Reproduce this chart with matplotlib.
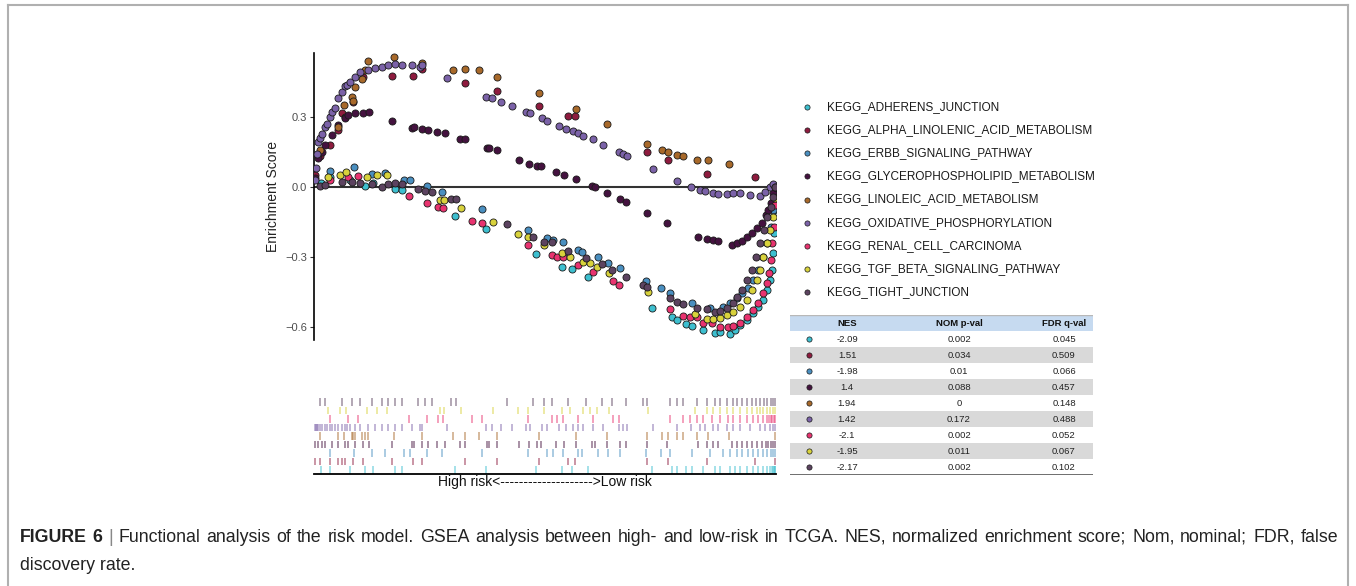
import matplotlib
matplotlib.use("Agg")
import matplotlib.pyplot as plt
from matplotlib.lines import Line2D
from matplotlib.patches import Rectangle
from matplotlib.ticker import FuncFormatter

plt.rcParams["font.family"] = ["Liberation Sans", "DejaVu Sans"]
CAPTION_FONT = ["Liberation Sans", "DejaVu Sans"]

W, H = 1356, 586

# running enrichment score at the hits: rank in the ranked gene list, ES
adherens_rank = [280, 640, 1440, 2040, 2360, 3240, 3520, 5640, 6880, 8880, 9920, 10320, 10960, 13520, 14320,
                 14520, 14880, 15120, 15560, 16040, 16240, 16640, 16840, 17040, 17320, 17560, 17760, 17960,
                 18120, 18240, 18320, 18360, 18400, 18420, 18440]
adherens_es = [0.016, 0.04, 0.03, 0.003, 0.016, -0.010, -0.014, -0.126, -0.181, -0.288, -0.344, -0.353, -0.387,
               -0.520, -0.559, -0.571, -0.589, -0.597, -0.614, -0.627, -0.623, -0.632, -0.614, -0.593, -0.571,
               -0.541, -0.516, -0.486, -0.443, -0.400, -0.357, -0.284, -0.199, -0.10, -0.03]

alpha_rank = [40, 240, 640, 960, 1120, 1240, 1560, 1960, 3120, 3960, 4320, 6040, 7320, 9000, 10160, 10440,
              13320, 14160, 15720, 17640, 18440]
alpha_es = [0.05, 0.13, 0.179, 0.243, 0.316, 0.299, 0.363, 0.470, 0.475, 0.475, 0.505, 0.444, 0.410, 0.346,
            0.303, 0.303, 0.149, 0.114, 0.054, 0.042, 0.0]

erbb_rank = [640, 1600, 2320, 2840, 3600, 3840, 4520, 5120, 6720, 8560, 9320, 9560, 9960, 10560, 10720, 11360,
             11760, 12240, 13280, 13880, 14240, 15120, 15840, 16360, 16640, 16920, 17120, 17360, 17560, 17760,
             17960, 18120, 18280, 18360, 18440]
erbb_es = [0.067, 0.084, 0.054, 0.059, 0.029, 0.029, 0.003, -0.023, -0.096, -0.186, -0.220, -0.228, -0.237,
           -0.271, -0.280, -0.301, -0.327, -0.348, -0.404, -0.434, -0.456, -0.499, -0.520, -0.516, -0.499,
           -0.477, -0.456, -0.434, -0.400, -0.357, -0.301, -0.241, -0.173, -0.100, -0.03]

glycero_rank = [40, 160, 320, 440, 720, 960, 1240, 1360, 1640, 1960, 2200, 3120, 3920, 4000, 4320, 4560, 4920,
                5240, 5840, 6040, 6920, 7000, 7320, 8200, 8600, 8920, 9080, 9680, 10000, 10480, 11120, 11240,
                11720, 12240, 12480, 13320, 14120, 15360, 15720, 15960, 16160, 16720, 16920, 17120, 17320,
                17520, 17720, 17920, 18080, 18160, 18280, 18360, 18440]
glycero_es = [0.037, 0.123, 0.15, 0.179, 0.222, 0.264, 0.294, 0.307, 0.316, 0.316, 0.320, 0.282, 0.252, 0.256,
              0.247, 0.243, 0.234, 0.230, 0.204, 0.204, 0.166, 0.166, 0.157, 0.114, 0.097, 0.089, 0.089, 0.063,
              0.050, 0.033, 0.003, -0.001, -0.027, -0.053, -0.066, -0.113, -0.156, -0.216, -0.224, -0.228,
              -0.233, -0.250, -0.241, -0.233, -0.216, -0.198, -0.177, -0.156, -0.122, -0.100, -0.070, -0.027, 0.0]

linoleic_rank = [240, 960, 1200, 1520, 1560, 1640, 1920, 2040, 2160, 3200, 4320, 5560, 6040, 6600, 7320, 9000,
                 10480, 11720, 13320, 13920, 14160, 14520, 14760, 15320, 15760, 16600, 18440]
linoleic_es = [0.157, 0.256, 0.350, 0.384, 0.367, 0.427, 0.462, 0.500, 0.539, 0.556, 0.530, 0.500, 0.504, 0.500,
               0.470, 0.402, 0.333, 0.269, 0.183, 0.157, 0.149, 0.136, 0.132, 0.114, 0.114, 0.097, 0.0]

oxphos_rank = [40, 80, 120, 160, 240, 320, 440, 520, 640, 720, 840, 960, 1120, 1240, 1320, 1440, 1640, 1840,
               2160, 2440, 2720, 2960, 3240, 3520, 3920, 4240, 4320, 5320, 6880, 7120, 7480, 7920, 8480, 8640,
               9120, 9320, 9800, 10080, 10360, 10560, 10760, 11160, 11560, 12200, 12360, 12520, 13560, 14520,
               15080, 15440, 15640, 15960, 16160, 16520, 16760, 17040, 17440, 17840, 18040, 18240, 18360, 18440]
oxphos_es = [0.03, 0.08, 0.14, 0.19, 0.21, 0.225, 0.256, 0.27, 0.299, 0.32, 0.337, 0.38, 0.406, 0.43, 0.436,
             0.449, 0.470, 0.492, 0.500, 0.509, 0.513, 0.522, 0.526, 0.522, 0.522, 0.513, 0.522, 0.466, 0.384,
             0.380, 0.363, 0.346, 0.320, 0.316, 0.294, 0.282, 0.260, 0.247, 0.239, 0.230, 0.217, 0.204, 0.179,
             0.149, 0.140, 0.132, 0.076, 0.024, 0.000, -0.014, -0.018, -0.027, -0.031, -0.031, -0.027, -0.027,
             -0.036, -0.040, -0.023, 0.000, 0.012, 0.0]

renal_rank = [640, 1360, 1760, 3800, 4520, 4960, 5160, 6320, 6720, 8560, 9520, 9720, 9960, 10560, 11160, 11960,
              12200, 14240, 14760, 15040, 15320, 15560, 15920, 16240, 16560, 16760, 17040, 17320, 17560, 17760,
              17960, 18120, 18200, 18280, 18320, 18400, 18440]
renal_es = [0.03, 0.042, 0.046, -0.040, -0.070, -0.087, -0.091, -0.147, -0.156, -0.250, -0.293, -0.301, -0.301,
            -0.336, -0.366, -0.404, -0.421, -0.524, -0.554, -0.559, -0.559, -0.584, -0.584, -0.601, -0.601,
            -0.597, -0.584, -0.559, -0.528, -0.499, -0.456, -0.413, -0.370, -0.314, -0.241, -0.173, -0.08]

tgf_rank = [560, 1040, 1280, 2120, 2520, 2920, 5040, 5200, 5880, 7160, 8160, 8560, 9200, 9920, 10240, 10760,
            11040, 11320, 11800, 13360, 15240, 15720, 15960, 16240, 16520, 16760, 17040, 17320, 17520, 17720,
            17840, 17960, 18120, 18240, 18360, 18440]
tgf_es = [0.042, 0.050, 0.063, 0.042, 0.050, 0.050, -0.057, -0.057, -0.091, -0.151, -0.203, -0.216, -0.250,
          -0.284, -0.301, -0.323, -0.327, -0.344, -0.370, -0.451, -0.546, -0.567, -0.567, -0.563, -0.550, -0.537,
          -0.516, -0.486, -0.443, -0.400, -0.357, -0.301, -0.241, -0.186, -0.130, -0.05]

tight_rank = [240, 440, 1120, 1520, 1840, 2320, 2720, 2960, 3240, 3520, 4160, 4440, 4720, 5480, 5680, 7720,
              8760, 9200, 9520, 10160, 10880, 11520, 11920, 12480, 13160, 13320, 14240, 14520, 14760, 15320,
              15720, 16040, 16240, 16520, 16760, 16920, 17120, 17320, 17520, 17680, 17840, 18000, 18120, 18280,
              18360, 18440]
tight_es = [0.003, 0.007, 0.020, 0.020, 0.016, 0.012, -0.001, 0.012, 0.016, 0.012, -0.010, -0.018, -0.023,
            -0.053, -0.053, -0.160, -0.216, -0.237, -0.237, -0.276, -0.306, -0.331, -0.357, -0.387, -0.421,
            -0.430, -0.477, -0.494, -0.503, -0.520, -0.524, -0.537, -0.533, -0.520, -0.499, -0.473, -0.443,
            -0.400, -0.357, -0.301, -0.241, -0.186, -0.130, -0.087, -0.044, 0.0]

names = ["KEGG_ADHERENS_JUNCTION", "KEGG_ALPHA_LINOLENIC_ACID_METABOLISM", "KEGG_ERBB_SIGNALING_PATHWAY",
         "KEGG_GLYCEROPHOSPHOLIPID_METABOLISM", "KEGG_LINOLEIC_ACID_METABOLISM", "KEGG_OXIDATIVE_PHOSPHORYLATION",
         "KEGG_RENAL_CELL_CARCINOMA", "KEGG_TGF_BETA_SIGNALING_PATHWAY", "KEGG_TIGHT_JUNCTION"]
colors = ["#3DBFCF", "#8E1B3E", "#4A8FC0", "#44123F", "#A8692A", "#7B62A8", "#E8336F", "#D8D23C", "#5C4360"]
nes = [-2.09, 1.51, -1.98, 1.4, 1.94, 1.42, -2.1, -1.95, -2.17]
nom_p = [0.002, 0.034, 0.01, 0.088, 0, 0.172, 0.002, 0.011, 0.002]
fdr_q = [0.045, 0.509, 0.066, 0.457, 0.148, 0.488, 0.052, 0.067, 0.102]

series = [(adherens_rank, adherens_es), (alpha_rank, alpha_es), (erbb_rank, erbb_es),
          (glycero_rank, glycero_es), (linoleic_rank, linoleic_es), (oxphos_rank, oxphos_es),
          (renal_rank, renal_es), (tgf_rank, tgf_es), (tight_rank, tight_es)]

N_GENES = 18480


def box(x0, y0, x1, y1):
    # pixel box -> figure fraction rect
    return [x0 / W, 1 - y1 / H, (x1 - x0) / W, (y1 - y0) / H]


fig = plt.figure(figsize=(W / 100, H / 100), dpi=100)

# --- running enrichment score ---
ax = fig.add_axes(box(314, 52.7, 776, 340))
ax.axhline(0, color="#333333", lw=1.5, zorder=1)
for i, ((x, y), c) in enumerate(zip(series, colors)):
    ax.scatter(x, y, s=26, c=c, edgecolors="#1a1a1a", linewidths=0.6, zorder=2 + i)
ax.set_xlim(0, N_GENES)
ax.set_ylim(-0.657, 0.574)
ax.set_yticks([-0.6, -0.3, 0.0, 0.3])
ax.yaxis.set_major_formatter(FuncFormatter(lambda v, p: f"{v:.1f}".replace("-", "\u2212")))
ax.set_xticks([])
for s in ["top", "right", "bottom"]:
    ax.spines[s].set_visible(False)
ax.spines["left"].set_linewidth(1.2)
ax.tick_params(axis="y", length=3, width=0.8, color="#333333", labelsize=8, labelcolor="#4d4d4d", pad=2)
ax.set_ylabel("Enrichment Score", fontsize=10, color="#222222")
ax.yaxis.set_label_coords(-0.073, 0.5)

# --- hit rug ---
rax = fig.add_axes(box(314, 398, 776, 474))
for i, ((x, y), c) in enumerate(zip(series, colors)):
    rax.vlines(x, i + 0.05, i + 0.95, colors=c, alpha=0.5, lw=1.3)
rax.set_xlim(0, N_GENES)
rax.set_ylim(0, 9)
rax.set_xticks([])
rax.set_yticks([])
for s in ["top", "right", "left"]:
    rax.spines[s].set_visible(False)
rax.spines["bottom"].set_linewidth(1.3)
rax.set_xlabel("High risk<" + "-" * 20 + ">Low risk", fontsize=10, labelpad=1, color="#111111")

# --- legend ---
lax = fig.add_axes(box(780, 95.5, 1110, 303.5))
lax.set_xlim(0, 330)
lax.set_ylim(8.5, -0.5)
lax.axis("off")
for i, (name, c) in enumerate(zip(names, colors)):
    lax.scatter(27, i, s=14, c=c, edgecolors="#1a1a1a", linewidths=0.5)
    lax.text(47, i, name, fontsize=8.5, va="center", ha="left", color="#1a1a1a")

# --- stats table ---
tax = fig.add_axes(box(790, 315, 1093, 475))
tax.set_xlim(0, 303)
tax.set_ylim(10, 0)
tax.axis("off")
tax.add_patch(Rectangle((0, 0), 303, 1, color="#C6DAF0", lw=0))
for j in range(2, 10, 2):
    tax.add_patch(Rectangle((0, j), 303, 1, color="#D9D9D9", lw=0))
tax.plot([0, 303], [0, 0], color="#b8b8b8", lw=1)
tax.plot([0, 303], [10, 10], color="#555555", lw=1.2)
for txt, xc in [("NES", 57), ("NOM p-val", 169), ("FDR q-val", 274)]:
    tax.text(xc, 0.55, txt, ha="center", va="center", fontsize=6.8, fontweight="bold", color="#111111")
for j, (c, a, b, d) in enumerate(zip(colors, nes, nom_p, fdr_q), start=1):
    tax.scatter(19, j + 0.5, s=14, c=c, edgecolors="#1a1a1a", linewidths=0.5)
    tax.text(57, j + 0.55, f"{a:g}", ha="center", va="center", fontsize=6.8, color="#222222")
    tax.text(169, j + 0.55, f"{b:g}", ha="center", va="center", fontsize=6.8, color="#222222")
    tax.text(274, j + 0.55, f"{d:g}", ha="center", va="center", fontsize=6.8, color="#222222")

# --- frame and caption ---
frame = [([8 / W, 8 / W], [0, 1 - 5 / H]), ([8 / W, 1348 / W], [1 - 5 / H, 1 - 5 / H]),
         ([1348 / W, 1348 / W], [1 - 5 / H, 0])]
for xs, ys in frame:
    fig.add_artist(Line2D(xs, ys, color="#b0b0b0", lw=1.5))

caption1 = ("FIGURE 6 | Functional analysis of the risk model. GSEA analysis between high- and low-risk in TCGA. "
            "NES, normalized enrichment score; Nom, nominal; FDR, false")
caption2 = "discovery rate."
CAP_SIZE = 12.8

# first caption line is justified to the full text width
words = caption1.split(" ")
texts = []
for k, w in enumerate(words):
    kw = {"color": "#888888" if w == "|" else "#222222"}
    if k < 2:
        kw["fontweight"] = "bold"
    texts.append(fig.text(0, 1 - 537 / H, w, fontsize=CAP_SIZE, family=CAPTION_FONT, va="center", ha="left", **kw))
renderer = fig.canvas.get_renderer()
widths = [t.get_window_extent(renderer).width for t in texts]
gap = (1338 - 20 - sum(widths)) / (len(texts) - 1)
xpos = 20
for t, wd in zip(texts, widths):
    t.set_x(xpos / W)
    xpos += wd + gap
fig.text(20 / W, 1 - 566 / H, caption2, fontsize=CAP_SIZE, family=CAPTION_FONT, va="center", ha="left",
         color="#222222")

fig.savefig("out.png", dpi=100)
